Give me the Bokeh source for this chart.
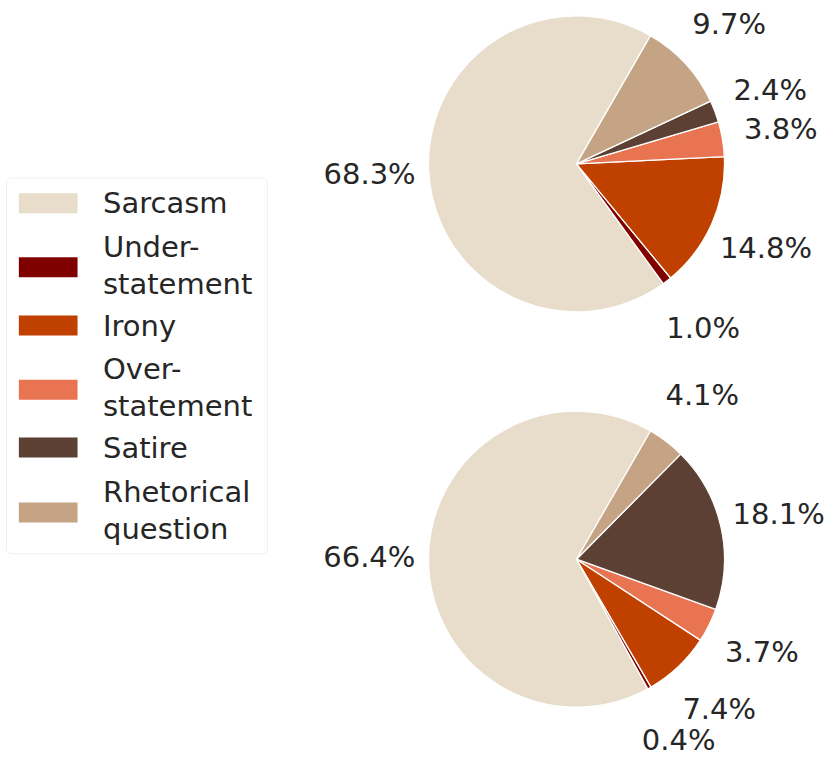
import numpy as np
from bokeh.plotting import figure
from bokeh.models import Range1d, BoxAnnotation, ColumnDataSource
from bokeh.core.properties import value
from bokeh.embed import file_html
from bokeh.resources import INLINE

# ---------------- data ----------------
categories = ["Sarcasm", "Understatement", "Irony", "Overstatement", "Satire", "Rhetorical question"]
legend_labels = ["Sarcasm", "Under-\nstatement", "Irony", "Over-\nstatement", "Satire", "Rhetorical\nquestion"]
colors = ["#e8dcca", "#800000", "#c04000", "#e97451", "#5c4033", "#c4a484"]
top_values = [68.3, 1.0, 14.8, 3.8, 2.4, 9.7]
bottom_values = [66.4, 0.4, 7.4, 3.7, 18.1, 4.1]

# ---------------- layout ----------------
W, H = 830, 760
FONT = "DejaVu Sans"
TXT = "#262626"
FS = "29px"

def Y(sy):
    return H - sy

p = figure(width=W, height=H, output_backend="svg", toolbar_location=None,
           x_range=Range1d(0, W), y_range=Range1d(0, H),
           min_border=0, outline_line_color=None)
p.axis.visible = False
p.grid.visible = False
p.background_fill_color = "white"
p.border_fill_color = "white"

R = 148
START = np.deg2rad(60)
LABEL_R = 1.4 * R

def draw_pie(vals, cx, cy):
    v = np.array(vals, dtype=float)
    frac = v / v.sum()
    ends = START + 2 * np.pi * np.cumsum(frac)
    starts = ends - 2 * np.pi * frac
    mids = (starts + ends) / 2
    src = ColumnDataSource(dict(
        x=[cx] * len(v), y=[Y(cy)] * len(v), start=starts, end=ends, color=colors,
        lx=cx + LABEL_R * np.cos(mids), ly=Y(cy) + LABEL_R * np.sin(mids),
        lab=[f"{x:.1f}%" for x in vals]))
    p.wedge(x="x", y="y", radius=R, start_angle="start", end_angle="end",
            fill_color="color", line_color="white", line_width=1.3, source=src)
    p.text(x="lx", y="ly", text="lab", source=src, text_font=value(FONT),
           text_font_size=FS, text_color=TXT, text_align="center", text_baseline="middle")

draw_pie(top_values, 576, 163.3)
draw_pie(bottom_values, 576, 558.7)

# ---------------- legend ----------------
p.add_layout(BoxAnnotation(left=6, right=267, top=Y(177.5), bottom=Y(553.3),
                           fill_color="white", fill_alpha=0.8, line_color="#cccccc",
                           line_width=1, border_radius=5, level="underlay"))
entry_y = [202.7, 266.7, 325.0, 389.3, 447.0, 512.0]
n_lines = [lab.count("\n") + 1 for lab in legend_labels]
text_y = [ey - (2 if n > 1 else 0) for ey, n in zip(entry_y, n_lines)]
lsrc = ColumnDataSource(dict(x=[47.7] * 6, y=[Y(v) for v in entry_y], color=colors,
                             tx=[102.5] * 6, ty=[Y(v) for v in text_y], lab=legend_labels))
p.rect(x="x", y="y", width=58.7, height=20, fill_color="color", line_color=None, source=lsrc)
p.text(x="tx", y="ty", text="lab", source=lsrc, text_font=value(FONT), text_font_size=FS,
       text_color=TXT, text_align="left", text_baseline="middle", text_line_height=1.08)

open("out.html", "w").write(file_html(p, INLINE))
